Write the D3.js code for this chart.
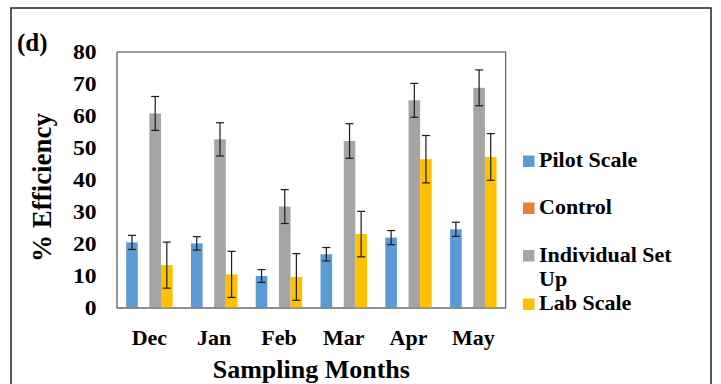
<!DOCTYPE html>
<html>
<head>
<meta charset="utf-8">
<script src="https://cdn.jsdelivr.net/npm/d3@7.9.0/dist/d3.min.js"></script>
<style>
  body { margin: 0; background: #fff; }
  svg text { font-family: "Liberation Serif", "Times New Roman", "DejaVu Serif", serif; font-weight: bold; fill: #000; }
</style>
</head>
<body>
<svg id="chart" width="721" height="384"></svg>
<script>
let months = ['Dec', 'Jan', 'Feb', 'Mar', 'Apr', 'May'];
let seriesNames = ['Pilot Scale', 'Control', 'Individual Set Up', 'Lab Scale'];
let colors = ['#5B9BD5', '#ED7D31', '#A5A5A5', '#FFC000'];

let pilot = [20.5, 20.2, 10.0, 16.8, 22.0, 24.6];
let pilotErr = [2.2, 2.1, 2.0, 2.1, 2.2, 2.2];
let control = [0, 0, 0, 0, 0, 0];
let individual = [60.8, 52.7, 31.7, 52.2, 64.9, 68.8];
let individualErr = [5.3, 5.2, 5.3, 5.4, 5.3, 5.6];
let lab = [13.4, 10.5, 9.7, 23.1, 46.5, 47.2];
let labErr = [7.2, 7.2, 7.3, 7.1, 7.4, 7.3];
let yTicks = [0, 10, 20, 30, 40, 50, 60, 70, 80];

let values = [pilot, control, individual, lab];
let errors = [pilotErr, null, individualErr, labErr];

let svg = d3.select('#chart');

// outer frame
svg.append('rect')
    .attr('x', 11).attr('y', 8)
    .attr('width', 700).attr('height', 400)
    .attr('fill', 'none')
    .attr('stroke', '#222')
    .attr('stroke-width', 1.5);

let plot = { left: 117, right: 505.7, top: 52, bottom: 308 };

let x0 = d3.scaleBand().domain(months).range([plot.left, plot.right]);
let x1 = d3.scaleBand().domain(seriesNames).range([0, x0.bandwidth()]).paddingOuter(0.79);
let y = d3.scaleLinear().domain([0, 80]).range([plot.bottom, plot.top]);

// plot area border
svg.append('rect')
    .attr('x', plot.left).attr('y', plot.top)
    .attr('width', plot.right - plot.left).attr('height', plot.bottom - plot.top)
    .attr('fill', 'none')
    .attr('stroke', '#404040')
    .attr('stroke-width', 1);

// bars
seriesNames.forEach((name, s) => {
    svg.append('g')
        .selectAll('rect')
        .data(months)
        .join('rect')
        .attr('x', (m) => x0(m) + x1(name))
        .attr('y', (m, i) => y(values[s][i]))
        .attr('width', x1.bandwidth())
        .attr('height', (m, i) => y(0) - y(values[s][i]))
        .attr('fill', colors[s]);
});

// baseline + left axis line
svg.append('line')
    .attr('x1', plot.left).attr('x2', plot.right)
    .attr('y1', y(0)).attr('y2', y(0))
    .attr('stroke', '#7f7f7f').attr('stroke-width', 1.2);
svg.append('line')
    .attr('x1', plot.left).attr('x2', plot.left)
    .attr('y1', y(0)).attr('y2', plot.top)
    .attr('stroke', '#8a8a8a').attr('stroke-width', 1);

// error bars
seriesNames.forEach((name, s) => {
    if (!errors[s]) return;
    months.forEach((m, i) => {
        let cx = x0(m) + x1(name) + x1.bandwidth() / 2;
        let hi = y(values[s][i] + errors[s][i]);
        let lo = y(values[s][i] - errors[s][i]);
        let g = svg.append('g').attr('stroke', '#1a1a1a').attr('stroke-width', 1.2);
        g.append('line').attr('x1', cx).attr('x2', cx).attr('y1', hi).attr('y2', lo);
        g.append('line').attr('x1', cx - 4).attr('x2', cx + 4).attr('y1', hi).attr('y2', hi);
        g.append('line').attr('x1', cx - 4).attr('x2', cx + 4).attr('y1', lo).attr('y2', lo);
    });
});

// y tick labels
svg.append('g')
    .selectAll('text')
    .data(yTicks)
    .join('text')
    .attr('transform', (d) => `translate(96.5,${y(d)}) scale(1.18,1)`)
    .attr('text-anchor', 'end')
    .attr('dy', '0.34em')
    .style('font-size', '20px')
    .text((d) => d);

// x labels
svg.append('g')
    .selectAll('text')
    .data(months)
    .join('text')
    .attr('x', (m) => x0(m) + x0.bandwidth() / 2)
    .attr('y', 345)
    .attr('text-anchor', 'middle')
    .style('font-size', '22px')
    .text((m) => m);

// axis titles
svg.append('text')
    .attr('x', (plot.left + plot.right) / 2)
    .attr('y', 378)
    .attr('text-anchor', 'middle')
    .style('font-size', '26px')
    .text('Sampling Months');

svg.append('text')
    .attr('transform', 'translate(51,187.5) rotate(-90)')
    .attr('text-anchor', 'middle')
    .style('font-size', '27px')
    .text('% Efficiency');

svg.append('text')
    .attr('x', 17).attr('y', 51)
    .style('font-size', '25px')
    .text('(d)');

// legend
let legendBase = [167, 214, 261.5, 310];
let legend = svg.append('g');
seriesNames.forEach((name, s) => {
    legend.append('rect')
        .attr('x', 523).attr('y', legendBase[s] - 11.5)
        .attr('width', 11.5).attr('height', 11.5)
        .attr('fill', colors[s]);
    let t = legend.append('text')
        .attr('x', 539).attr('y', legendBase[s])
        .style('font-size', '22px');
    if (name === 'Individual Set Up') {
        t.append('tspan').text('Individual Set');
        t.append('tspan').attr('x', 539).attr('y', legendBase[s] + 24).text('Up');
    } else {
        t.text(name);
    }
});
</script>
</body>
</html>
